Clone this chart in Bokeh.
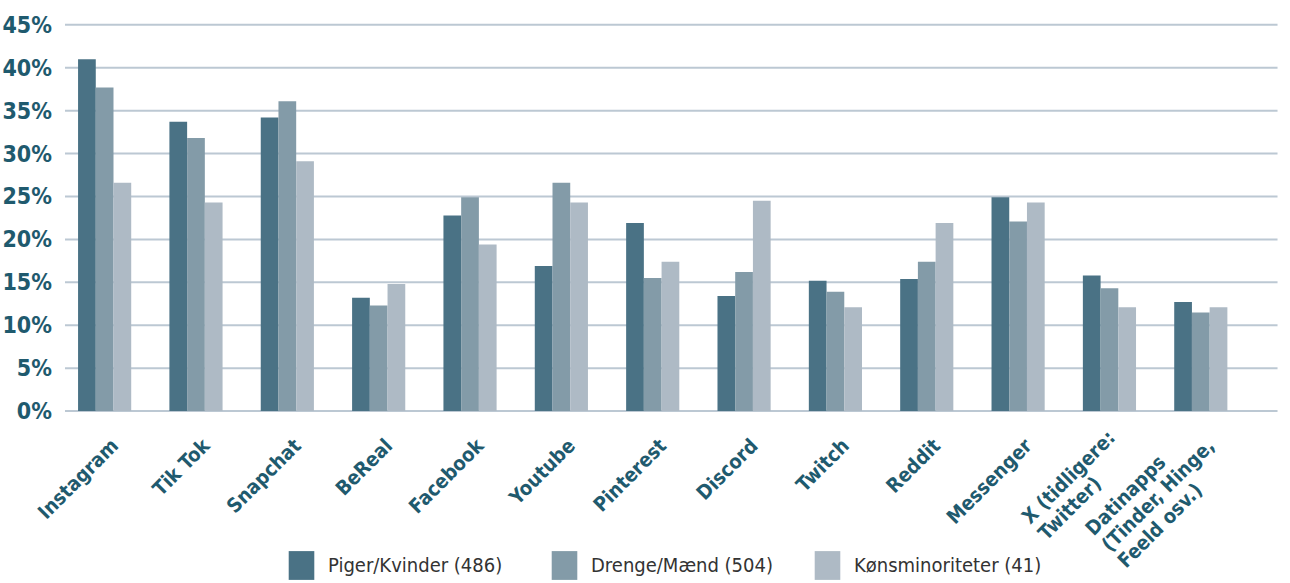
import numpy as np
from bokeh.plotting import figure
from bokeh.models import Range1d, Legend, LegendItem, ColumnDataSource, LabelSet
from bokeh.core.properties import value
from bokeh.embed import file_html
from bokeh.resources import INLINE

categories = ["Instagram", "Tik Tok", "Snapchat", "BeReal", "Facebook", "Youtube",
              "Pinterest", "Discord", "Twitch", "Reddit", "Messenger",
              "X (tidligere:\nTwitter)", "Datinapps\n(Tinder, Hinge,\nFeeld osv.)"]
piger = [41.0, 33.7, 34.2, 13.2, 22.8, 16.9, 21.9, 13.4, 15.2, 15.4, 24.9, 15.8, 12.7]
drenge = [37.7, 31.8, 36.1, 12.3, 24.9, 26.6, 15.5, 16.2, 13.9, 17.4, 22.1, 14.3, 11.5]
koens = [26.6, 24.3, 29.1, 14.8, 19.4, 24.3, 17.4, 24.5, 12.1, 21.9, 24.3, 12.1, 12.1]
series_names = ["Piger/Kvinder (486)", "Drenge/Mænd (504)", "Kønsminoriteter (41)"]
colors = ["#4a7285", "#839ba8", "#aebac5"]
y_ticks = [0, 5, 10, 15, 20, 25, 30, 35, 40, 45]
y_tick_labels = [f"{t}%" for t in y_ticks]

FONT = "DejaVu Sans Condensed"
TEAL = "#1f5a6e"

# plotting area (category units): grid spans from X0 to X1
X0, X1 = -0.434, 12.84
idx = np.arange(len(categories))
# the frame covers the whole canvas so that the labels and legend are not clipped
p = figure(width=1290, height=583, output_backend="svg", toolbar_location=None,
           x_range=Range1d(-1.140, 12.982), y_range=Range1d(-20.08, 47.83),
           min_border_left=0, min_border_right=0, min_border_top=0, min_border_bottom=0)
p.outline_line_color = None
p.background_fill_color = "white"
p.xaxis.visible = False
p.yaxis.visible = False
p.grid.visible = False

# horizontal grid lines
p.segment(x0=[X0] * len(y_ticks), x1=[X1] * len(y_ticks), y0=y_ticks, y1=y_ticks,
          line_color="#bcc8d3", line_width=2, level="underlay")

bw = 0.194
renderers = []
for off, vals, c in zip([-bw, 0.0, bw], [piger, drenge, koens], colors):
    r = p.vbar(x=idx + off, top=vals, width=bw, fill_color=c, line_color=None)
    renderers.append(r)

# y tick labels
ysrc = ColumnDataSource(dict(x=[X0] * len(y_ticks), y=y_ticks, text=y_tick_labels))
p.add_layout(LabelSet(x="x", y="y", text="text", source=ysrc, x_offset=-13,
                      text_align="right", text_baseline="middle",
                      text_font=value(FONT), text_font_style="bold", text_font_size="23px",
                      text_color=TEAL))

# category labels
lab_src = ColumnDataSource(dict(x=idx, y=np.zeros(len(idx)), text=categories))
p.add_layout(LabelSet(x="x", y="y", text="text", source=lab_src, angle=np.pi / 4,
                      x_offset=10, y_offset=-31, text_align="right", text_baseline="middle",
                      text_font=value(FONT), text_font_style="bold", text_font_size="20px",
                      text_color=TEAL, text_line_height=0.95))

legend = Legend(items=[LegendItem(label=n, renderers=[r]) for n, r in zip(series_names, renderers)],
                orientation="horizontal", location=(285, 0),
                glyph_width=32, glyph_height=36, label_height=36, label_text_font=FONT,
                label_text_font_size="20px", label_text_color="#333333",
                label_width=200, spacing=20, label_standoff=11, border_line_color=None,
                background_fill_alpha=0, padding=0, margin=0)
p.add_layout(legend)

open("out.html", "w").write(file_html(p, INLINE))
